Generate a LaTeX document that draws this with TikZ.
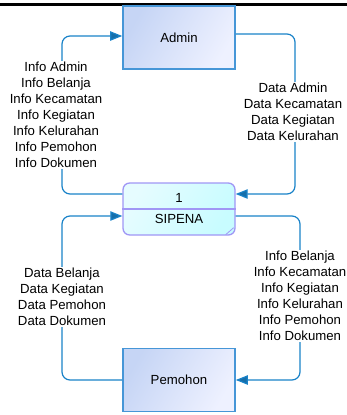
\documentclass[tikz,border=0pt]{standalone}
\usepackage{fontspec}
\setmainfont{Liberation Sans}
\usetikzlibrary{calc, arrows.meta, positioning}
\definecolor{FlowLine}{RGB}{25,130,200}
\definecolor{EntityBorder}{RGB}{70,150,215}
\definecolor{EntityDark}{RGB}{198,213,245}
\definecolor{EntityLight}{RGB}{238,241,255}
\definecolor{ProcBorder}{RGB}{160,150,245}
\definecolor{ProcDark}{RGB}{200,252,255}
\definecolor{ProcLight}{RGB}{230,252,255}
\tikzset{
    entity/.style={draw=EntityBorder, line width=1.2pt,
        left color=EntityDark, right color=EntityLight, shading angle=60,
        minimum width=84pt, minimum height=47pt, inner sep=0pt},
    process/.style={draw=ProcBorder, line width=1pt, rounded corners=5pt,
        left color=ProcLight, right color=ProcDark, shading angle=60,
        minimum width=84pt, minimum height=39pt, inner sep=0pt},
    flow/.style={draw=FlowLine, line width=0.9pt, rounded corners=6pt,
        -{Triangle[length=9pt, width=7pt, fill=FlowLine!85!black]}},
    flowtext/.style={fill=white, align=center, inner sep=1pt}
}
\begin{document}
\begin{tikzpicture}[x=0.75pt, y=-0.75pt, font=\fontsize{9.9}{12}\selectfont]
\useasboundingbox (0,0) rectangle (347,415);

\draw[line width=1.6pt] (0,4.5) -- (347,4.5);

% Entitas dan proses
\node[entity] (admin) at (179,37.5) {Admin};
\node[process] (proc) at (179,209) {};
\node[entity] (pemohon) at (179,380) {Pemohon};

\draw[draw=ProcBorder, line width=0.8pt] (proc.west) -- (proc.east);
\draw[draw=ProcBorder, line width=0.6pt]
    ([shift={(-10,-1)}]proc.south east) -- ([shift={(-2,-8)}]proc.south east);
\node (procid) at ($(proc.center)+(0,-11)$) {1};
\node (procname) at ($(proc.center)+(0,10)$) {SIPENA};

% Titik belok aliran
\coordinate (c1) at (62,194);
\coordinate (c2) at (62,36);
\coordinate (c3) at (295,34);
\coordinate (c4) at (295,194);
\coordinate (c5) at (300,216);
\coordinate (c6) at (300,380);
\coordinate (c7) at (62,380);
\coordinate (c8) at (62,216);

% Aliran data, digambar sebelum teks agar teks menutupi garis
\draw[flow] ([yshift=11.25pt]proc.west) -- (c1) -- (c2) -- (admin.west |- c2);
\draw[flow] (admin.east |- c3) -- (c3) -- (c4) -- (proc.east |- c4);
\draw[flow] ([yshift=-5.25pt]proc.east) -- (c5) -- (c6) -- (pemohon.east |- c6);
\draw[flow] (pemohon.west |- c7) -- (c7) -- (c8) -- (proc.west |- c8);

\node[flowtext] (lbladmin) at (56,115) {Info Admin\\Info Belanja\\Info Kecamatan\\Info Kegiatan\\Info Kelurahan\\Info Pemohon\\Info Dokumen};
\node[flowtext] (lbldata) at (293,112) {Data Admin\\Data Kecamatan\\Data Kegiatan\\Data Kelurahan};
\node[flowtext] (lblinfo) at (300,296) {Info Belanja\\Info Kecamatan\\Info Kegiatan\\Info Kelurahan\\Info Pemohon\\Info Dokumen};
\node[flowtext] (lblpemohon) at (62,297) {Data Belanja\\Data Kegiatan\\Data Pemohon\\Data Dokumen};

\end{tikzpicture}
\end{document}
